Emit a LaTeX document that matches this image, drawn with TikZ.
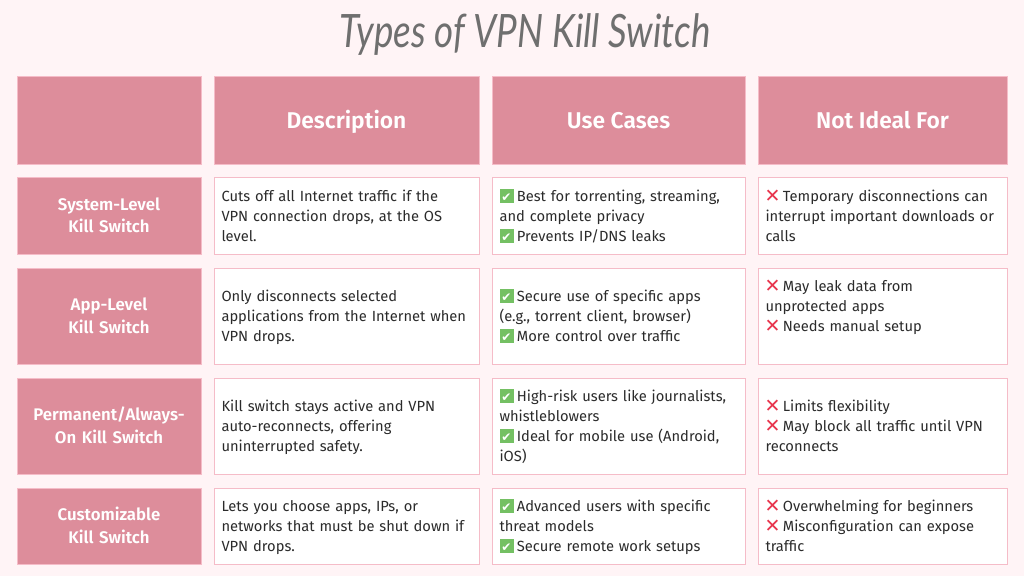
\documentclass[tikz,border=0pt]{standalone}
\usepackage{fontspec}
\setmainfont{Fira Sans}[BoldFont={Fira Sans SemiBold}]
\newfontfamily\titlefont{Lato Italic}
\newfontfamily\symfont{DejaVu Sans}
\definecolor{pagebg}{HTML}{FFF4F6}
\definecolor{rose}{HTML}{DD8D9B}
\definecolor{edge}{HTML}{F5BCC8}
\definecolor{ink}{HTML}{2B2B2B}
\definecolor{titlegray}{HTML}{6F6F6F}
\definecolor{okgreen}{HTML}{74C063}
\definecolor{nored}{HTML}{E8344C}
\newcommand{\ck}{\raisebox{-1.5pt}{\fboxsep=0pt\colorbox{okgreen}{\makebox[14pt]{\rule{0pt}{14pt}\raisebox{1.5pt}{\symfont\fontsize{12}{12}\selectfont\color{white}✔}}}}\hspace{3.4pt}}
\newcommand{\xx}{\raisebox{-1pt}{\makebox[14pt]{\symfont\fontsize{19}{19}\selectfont\color{nored}✕}}\hspace{3.4pt}}
\tikzset{
  x=1pt,y=-1pt,
  basebox/.style 2 args={anchor=north west,draw=edge,line width=1pt,minimum width=#1 pt,minimum height=#2 pt,inner sep=0pt,outer sep=0pt},
  headcell/.style 2 args={basebox={#1}{#2},fill=rose,text=white,font=\fontsize{22.8}{26}\selectfont\bfseries,align=center,execute at begin node=\strut,text depth=1.8pt},
  rowcell/.style 2 args={basebox={#1}{#2},fill=rose,text=white,font=\fontsize{16.8}{22.5}\selectfont\bfseries,align=center,text width=#1 pt,execute at begin node=\strut,text depth=26pt},
  bodycell/.style 2 args={basebox={#1}{#2},fill=white,text=ink,font=\fontsize{14.7}{20}\selectfont,align=left,inner xsep=7.5pt,text width=#1 pt-15pt,execute at begin node=\strut,text depth=43pt},
  fourlines/.style={text depth=63pt},
}
\begin{document}
\begin{tikzpicture}
\fill[pagebg] (0,0) rectangle (1024,576);
\useasboundingbox (0,0) rectangle (1024,576);
\node[text=titlegray,font=\titlefont\fontsize{46}{50}\selectfont] (title) at (525,35) {\scalebox{0.8}[1]{Types of VPN Kill Switch}};
% header
\node[headcell={184}{88}] (h0) at (17,76) {};
\node[headcell={265}{88}] (h1) at (214,76) {Description};
\node[headcell={253}{88}] (h2) at (492,76) {Use Cases};
\node[headcell={249}{88}] (h3) at (758,76) {Not Ideal For};
% row 1
\node[rowcell={184}{77}] (r1a) at (17,177) {System-Level\\Kill Switch};
\node[bodycell={265}{77}] (r1b) at (214,177) {Cuts off all Internet traffic if the\\VPN connection drops, at the OS\\level.};
\node[bodycell={253}{77}] (r1c) at (492,177) {\ck Best for torrenting, streaming,\\and complete privacy\\\ck Prevents IP/DNS leaks};
\node[bodycell={249}{77}] (r1d) at (758,177) {\xx Temporary disconnections can\\interrupt important downloads or\\calls};
% row 2
\node[rowcell={184}{96}] (r2a) at (17,268) {App-Level\\Kill Switch};
\node[bodycell={265}{96}] (r2b) at (214,268) {Only disconnects selected\\applications from the Internet when\\VPN drops.};
\node[bodycell={253}{96}] (r2c) at (492,268) {\ck Secure use of specific apps\\(e.g., torrent client, browser)\\\ck More control over traffic};
\node[bodycell={249}{96},fourlines] (r2d) at (758,268) {\xx May leak data from\\unprotected apps\\\xx Needs manual setup};
% row 3
\node[rowcell={184}{96}] (r3a) at (17,378) {Permanent/Always-\\On Kill Switch};
\node[bodycell={265}{96}] (r3b) at (214,378) {Kill switch stays active and VPN\\auto-reconnects, offering\\uninterrupted safety.};
\node[bodycell={253}{96},fourlines] (r3c) at (492,378) {\ck High-risk users like journalists,\\whistleblowers\\\ck Ideal for mobile use (Android,\\iOS)};
\node[bodycell={249}{96}] (r3d) at (758,378) {\xx Limits flexibility\\\xx May block all traffic until VPN\\reconnects};
% row 4
\node[rowcell={184}{76}] (r4a) at (17,488) {Customizable\\Kill Switch};
\node[bodycell={265}{76}] (r4b) at (214,488) {Lets you choose apps, IPs, or\\networks that must be shut down if\\VPN drops.};
\node[bodycell={253}{76}] (r4c) at (492,488) {\ck Advanced users with specific\\threat models\\\ck Secure remote work setups};
\node[bodycell={249}{76}] (r4d) at (758,488) {\xx Overwhelming for beginners\\\xx Misconfiguration can expose\\traffic};
\end{tikzpicture}
\end{document}
